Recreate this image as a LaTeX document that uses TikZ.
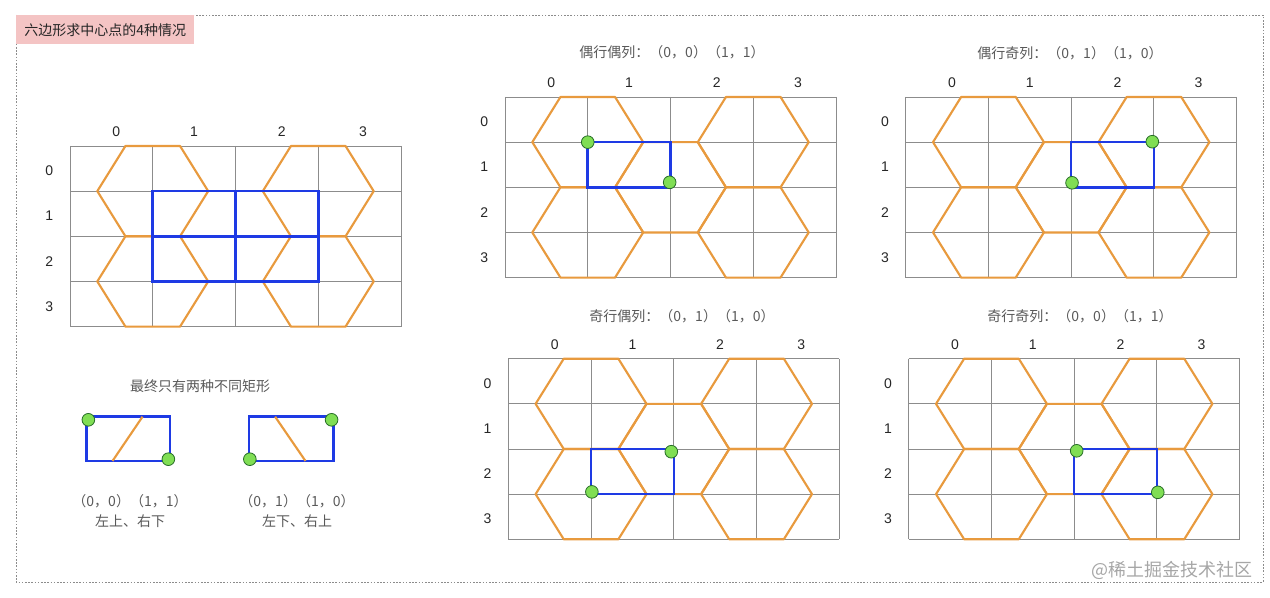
\documentclass[tikz,border=0pt]{standalone}
\usepackage{fontspec}
\setmainfont{Liberation Sans}
\newfontfamily\cjk{Noto Sans CJK SC}
\usepackage{tikz}
\definecolor{hexorange}{RGB}{232,154,62}
\definecolor{rectblue}{RGB}{30,58,228}
\definecolor{dotgreen}{RGB}{128,222,84}
\definecolor{dotedge}{RGB}{40,110,40}
\definecolor{cellgray}{RGB}{140,140,140}
\definecolor{headpink}{RGB}{244,196,196}
\colorlet{captiongray}{black!65}
\colorlet{digitgray}{black!85}
\colorlet{wmgray}{black!35}
\colorlet{framegray}{black!45}

\tikzset{
  board/.style 2 args={shift={(#1,#2)},x=62.06pt,y=-33.86pt},
  cellline/.style={cellgray,line width=0.7pt},
  hexline/.style={hexorange,line width=1.6pt,line join=round},
  blueline/.style={rectblue,line width=1.9pt},
  greendot/.style={circle,fill=dotgreen,draw=dotedge,line width=0.6pt,minimum size=9.5pt,inner sep=0pt},
  digit/.style={text=digitgray,font=\fontsize{10.5}{12}\selectfont},
  boardtitle/.style={text=captiongray,font=\cjk\fontsize{10.5}{12}\selectfont},
}

\newcommand{\hexboard}[4]{%
  \begin{scope}[board={#2}{#3}]
    \foreach \i in {0,...,4}{
      \draw[cellline] (\i,0)--(\i,4);
      \draw[cellline] (0,\i)--(4,\i);
    }
    \foreach \c/\dx in {0/0.06,1/0,2/0.06,3/0.04}
      \node[digit] (#1-c\c) at (\c+0.5+\dx,-0.31) {\c};
    \foreach \r in {0,...,3}
      \node[digit] (#1-r\r) at (-0.25,\r+0.55) {\r};
    \foreach \cx/\cy in {#4}
      \draw[hexline] (\cx-0.67,\cy)--(\cx-0.33,\cy-1)--(\cx+0.33,\cy-1)
        --(\cx+0.67,\cy)--(\cx+0.33,\cy+1)--(\cx-0.33,\cy+1)--cycle;
  \end{scope}}

\begin{document}
\begin{tikzpicture}[x=0.75pt,y=-0.75pt]
    \useasboundingbox (0,0) rectangle (1270,598);
    \draw[framegray,line width=0.6pt,dash pattern=on 1.2pt off 1.2pt] (16,15) rectangle (1263,582);
    \node[fill=headpink,anchor=north west,minimum width=133.5pt,minimum height=21.75pt,inner sep=0pt,
          text=black!85,font=\cjk\fontsize{10.5}{12}\selectfont] (head) at (16,15) {六边形求中心点的4种情况};

    \hexboard{g0}{70}{146}{1/1,3/1,1/3,3/3}
    \begin{scope}[board={70}{146}]
        \draw[blueline] (1,1) rectangle (3,3) (2,1)--(2,3) (1,2)--(3,2);
    \end{scope}

    \hexboard{g1}{505}{97}{1/1,3/1,1/3,3/3,2/2}
    \begin{scope}[board={505}{97}]
        \draw[blueline] (1,1) rectangle (2,2);
        \node[greendot] (g1-a) at (1,1) {};
        \node[greendot] (g1-b) at (1.99,1.89) {};
    \end{scope}
    \node[boardtitle] (t1) at (672,52) {偶行偶列：（0，0）（1，1）};

    \hexboard{g2}{905.7}{97}{1/1,3/1,1/3,3/3,2/2}
    \begin{scope}[board={905.7}{97}]
        \draw[blueline] (2,1) rectangle (3,2);
        \node[greendot] (g2-a) at (2.98,0.99) {};
        \node[greendot] (g2-b) at (2.01,1.90) {};
    \end{scope}
    \node[boardtitle] (t2) at (1070,53) {偶行奇列：（0，1）（1，0）};

    \hexboard{g3}{508.3}{358.7}{1/1,3/1,1/3,3/3,2/2}
    \begin{scope}[board={508.3}{358.7}]
        \draw[blueline] (1,2) rectangle (2,3);
        \node[greendot] (g3-a) at (1.97,2.06) {};
        \node[greendot] (g3-b) at (1.01,2.95) {};
    \end{scope}
    \node[boardtitle] (t3) at (682,316.5) {奇行偶列：（0，1）（1，0）};

    \hexboard{g4}{908.7}{358.7}{1/1,3/1,1/3,3/3,2/2}
    \begin{scope}[board={908.7}{358.7}]
        \draw[blueline] (2,2) rectangle (3,3);
        \node[greendot] (g4-a) at (2.03,2.04) {};
        \node[greendot] (g4-b) at (3.01,2.96) {};
    \end{scope}
    \node[boardtitle] (t4) at (1080,316.5) {奇行奇列：（0，0）（1，1）};

    \node[boardtitle] (only) at (200,386) {最终只有两种不同矩形};
    \begin{scope}[board={86.7}{416.7},x=62.5pt,y=-33.2pt]
        \draw[blueline] (0,0) rectangle (1,1);
        \draw[hexline] (0.31,1)--(0.67,0);
        \node[greendot] (pa-a) at (0.02,0.07) {};
        \node[greendot] (pa-b) at (0.98,0.96) {};
    \end{scope}
    \begin{scope}[board={249}{416.7},x=63.2pt,y=-33.2pt]
        \draw[blueline] (0,0) rectangle (1,1);
        \draw[hexline] (0.31,0)--(0.67,1);
        \node[greendot] (pb-a) at (0.01,0.96) {};
        \node[greendot] (pb-b) at (0.98,0.07) {};
    \end{scope}
    \node[boardtitle] (pa-xy) at (130,501.5) {（0，0）（1，1）};
    \node[boardtitle] (pa-txt) at (130,521.5) {左上、右下};
    \node[boardtitle] (pb-xy) at (297,501.5) {（0，1）（1，0）};
    \node[boardtitle] (pb-txt) at (297,521.5) {左下、右上};

    \node[text=wmgray,font=\cjk\fontsize{13.5}{15}\selectfont] (wm) at (1172,570) {@稀土掘金技术社区};
\end{tikzpicture}
\end{document}
